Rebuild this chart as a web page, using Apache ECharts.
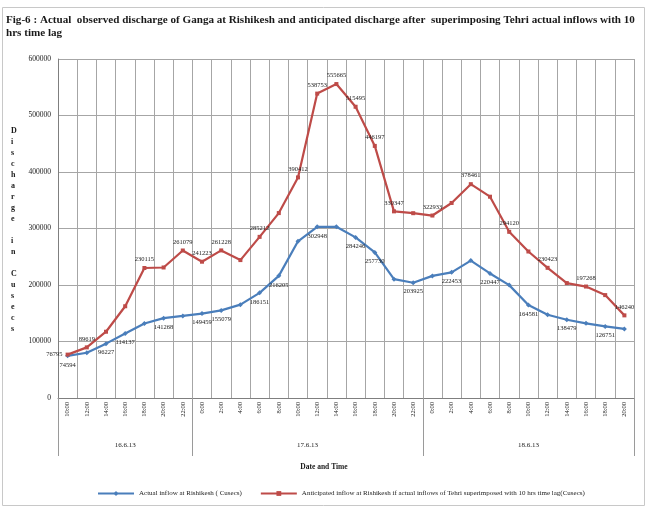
<!DOCTYPE html>
<html>
<head>
<meta charset="utf-8">
<script src="https://cdn.jsdelivr.net/npm/echarts@6/dist/echarts.min.js"></script>
<style>
  html, body { margin: 0; padding: 0; background: #ffffff; }
  #chart { width: 648px; height: 508px; }
</style>
</head>
<body>
<div id="chart"></div>
<script>
// Dates and the 2-hourly observation times under each date
const days = ['16.6.13', '17.6.13', '18.6.13'];
const dayTimes = [
  ['10:00', '12:00', '14:00', '16:00', '18:00', '20:00', '22:00'],
  ['0:00', '2:00', '4:00', '6:00', '8:00', '10:00', '12:00', '14:00', '16:00', '18:00', '20:00', '22:00'],
  ['0:00', '2:00', '4:00', '6:00', '8:00', '10:00', '12:00', '14:00', '16:00', '18:00', '20:00']
];

// Actual inflow at Rishikesh (cusecs)
const actualInflow = [
  74594, 80120, 96227, 114137, 131850, 141268, 145300, 149459, 155079, 165200,
  186151, 216205, 277400, 302948, 303100, 284246, 257730, 210300, 203925, 216100,
  222453, 243200, 220447, 199800, 164581, 147300, 138479, 132100, 126751, 122300
];
// Anticipated inflow at Rishikesh with Tehri inflows superimposed (10 hrs lag)
const anticipatedInflow = [
  76795, 89619, 117300, 162400, 230115, 231000, 261079, 241223, 261228, 244100,
  285212, 327300, 390412, 538753, 555665, 515495, 446197, 330347, 327100, 322933,
  345200, 378461, 356300, 294120, 259300, 230423, 203400, 197268, 182100, 146240
];

// Points whose value is printed next to the marker
const actualLabelIdx = [0, 2, 3, 5, 7, 8, 10, 11, 13, 15, 16, 18, 20, 22, 24, 26, 28];
const anticipatedLabelIdx = [0, 1, 4, 6, 7, 8, 10, 12, 13, 14, 15, 16, 17, 19, 21, 23, 25, 27, 29];

const yTicks = { min: 0, max: 600000, step: 100000 };

const categories = [];
const dayBounds = [0];
days.forEach((d, i) => {
  dayTimes[i].forEach(t => categories.push(d + ' ' + t));
  dayBounds.push(categories.length);
});
const dayCentres = days.map((d, i) => (dayBounds[i] + dayBounds[i + 1]) / 2);

const serif = 'Liberation Serif';
const labelStyle = { fontFamily: serif, fontSize: 6.5, color: '#222' };

function withLabels(values, idx, pos) {
  return values.map((v, i) => {
    if (idx.indexOf(i) < 0) return v;
    return {
      value: v,
      label: Object.assign({ show: true, position: pos, distance: 3, formatter: p => String(p.value) }, labelStyle)
    };
  });
}

const chart = echarts.init(document.getElementById('chart'), null, { renderer: 'canvas' });

const anticipatedData = withLabels(anticipatedInflow, anticipatedLabelIdx, 'top');
anticipatedData[0].label.position = 'left';

chart.setOption({
  animation: false,
  backgroundColor: '#ffffff',
  grid: { left: 58, right: 14, top: 59, bottom: 110, containLabel: false },
  graphic: [
    {
      type: 'rect', silent: true,
      shape: { x: 2.5, y: 7.5, width: 642, height: 498 },
      style: { fill: 'none', stroke: '#c8c8c8', lineWidth: 1 }
    },
    {
      type: 'text', left: 6, top: 14,
      style: {
        text: 'Fig-6 : Actual  observed discharge of Ganga at Rishikesh and anticipated discharge after  superimposing Tehri actual inflows with 10\nhrs time lag',
        fontFamily: serif, fontSize: 11.1, fontWeight: 'bold', fill: '#1a1a1a', lineHeight: 12.5
      }
    },
    {
      type: 'text', left: 11, top: 125,
      style: {
        text: 'Discharge in Cusecs'.split('').map(c => c === ' ' ? '' : c).join('\n'),
        fontFamily: serif, fontSize: 8, fontWeight: 'bold', fill: '#1a1a1a',
        lineHeight: 11, align: 'center', width: 8
      }
    },
    {
      type: 'text', left: 'center', top: 463,
      style: { text: 'Date and Time', fontFamily: serif, fontSize: 7.5, fontWeight: 'bold', fill: '#1a1a1a' }
    }
  ],
  legend: {
    left: 92, top: 485,
    itemWidth: 36, itemHeight: 6, itemGap: 18,
    textStyle: { fontFamily: serif, fontSize: 7, color: '#222' },
    data: [
      { name: 'Actual inflow at Rishikesh ( Cusecs)' },
      { name: 'Anticipated inflow at Rishikesh if actual inflows of Tehri superimposed with 10 hrs time lag(Cusecs)' }
    ]
  },
  xAxis: [
    {
      type: 'category',
      data: categories,
      boundaryGap: true,
      axisLine: { lineStyle: { color: '#7f7f7f', width: 1 } },
      axisTick: { interval: 0, length: 30, lineStyle: { color: '#9a9a9a' } },
      splitLine: { show: true, interval: 0, lineStyle: { color: '#a6a6a6', width: 1 } },
      axisLabel: {
        interval: 0, rotate: 90, margin: 4,
        fontFamily: serif, fontSize: 6.5, color: '#222',
        formatter: v => v.split(' ')[1]
      }
    },
    {
      type: 'value',
      min: 0, max: categories.length,
      position: 'bottom',
      axisLine: { show: false },
      splitLine: { show: false },
      axisTick: { show: true, customValues: dayBounds, length: 58, lineStyle: { color: '#9a9a9a' } },
      axisLabel: {
        show: true, customValues: dayCentres, margin: 44,
        fontFamily: serif, fontSize: 7, color: '#222',
        formatter: v => days[dayCentres.indexOf(v)] || ''
      }
    }
  ],
  yAxis: {
    type: 'value',
    min: yTicks.min, max: yTicks.max, interval: yTicks.step,
    axisLine: { show: true, lineStyle: { color: '#7f7f7f' } },
    axisTick: { show: false },
    splitLine: { lineStyle: { color: '#a6a6a6', width: 1 } },
    axisLabel: { fontFamily: serif, fontSize: 7.5, color: '#222', margin: 7, formatter: v => String(v) }
  },
  series: [
    {
      name: 'Actual inflow at Rishikesh ( Cusecs)',
      type: 'line',
      data: withLabels(actualInflow, actualLabelIdx, 'bottom'),
      color: '#4a7ebb',
      lineStyle: { width: 2.2, color: '#4a7ebb' },
      symbol: 'diamond', symbolSize: 5,
      itemStyle: { color: '#4a7ebb' },
      z: 3
    },
    {
      name: 'Anticipated inflow at Rishikesh if actual inflows of Tehri superimposed with 10 hrs time lag(Cusecs)',
      type: 'line',
      data: anticipatedData,
      color: '#be4b48',
      lineStyle: { width: 2.2, color: '#be4b48' },
      symbol: 'rect', symbolSize: 4,
      itemStyle: { color: '#be4b48' },
      z: 3
    }
  ]
});
</script>
</body>
</html>
